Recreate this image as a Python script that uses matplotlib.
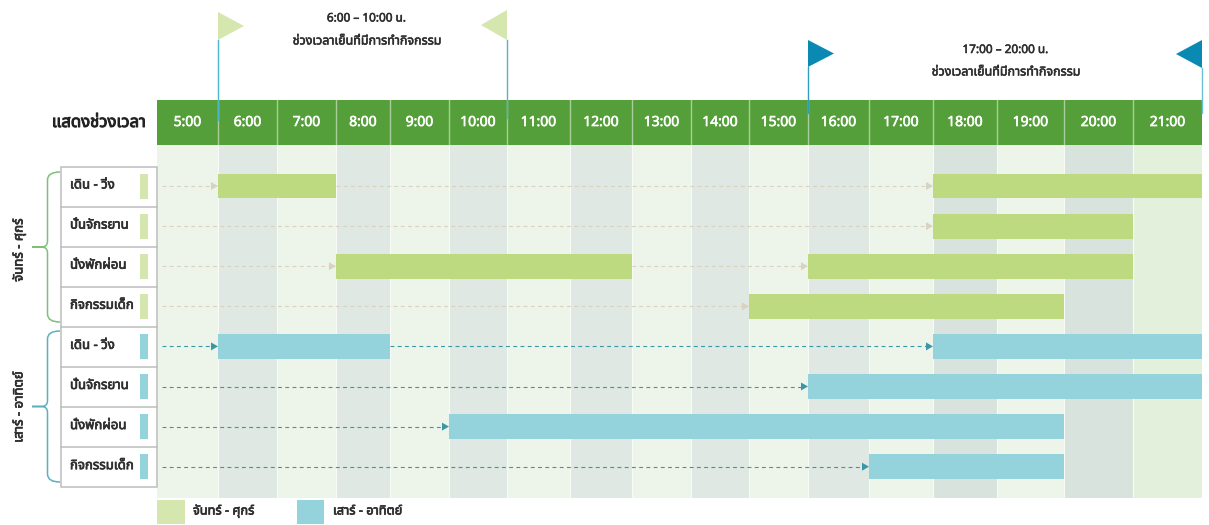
import numpy as np
import matplotlib
matplotlib.use("Agg")
import matplotlib.pyplot as plt
import matplotlib.patheffects as pe
from matplotlib.patches import Polygon, Rectangle, PathPatch
from matplotlib.path import Path

THAI = ['Noto Sans Thai', 'Noto Sans', 'DejaVu Sans']
plt.rcParams['font.family'] = THAI

hours = list(range(5, 22))
hour_labels = [f"{h}:00" for h in hours]
activities = ["เดิน - วิ่ง", "ปั่นจักรยาน", "นั่งพักผ่อน", "กิจกรรมเด็ก"]
weekday_label = "จันทร์ - ศุกร์"
weekend_label = "เสาร์ - อาทิตย์"
weekday_spans = [[(6, 8), (18, 22)], [(18, 21)], [(8, 13), (16, 21)], [(15, 20)]]
weekend_spans = [[(6, 9), (18, 22)], [(16, 22)], [(10, 20)], [(17, 20)]]
weekday_flags = (6, 11)
weekend_flags = (16, 22)
flag_titles = ["6:00 – 10:00 น.", "17:00 – 20:00 น."]
flag_sub = "ช่วงเวลาเย็นที่มีการทำกิจกรรม"
header_title = "แสดงช่วงเวลา"

# column edges of the uneven time axis (pixels)
edge_px = [157, 218, 277, 336, 390, 449, 507, 570, 632, 691, 749, 808, 869, 933, 997, 1064, 1133, 1202]
edge_h = list(range(5, 23))
W, H = 1209, 525
GREEN, TEAL = '#BDDA80', '#94D3DC'
GREEN_L, TEAL_L = '#D5E6AE', '#94D3DC'
INK = '#2E2E2E'


def faux_bold(width, color=INK):
    return [pe.withStroke(linewidth=width, foreground=color)]


fig = plt.figure(figsize=(W / 100, H / 100), dpi=100, facecolor='white')


def axes_px(x0, y0, x1, y1):
    return fig.add_axes([x0 / W, 1 - y1 / H, (x1 - x0) / W, (y1 - y0) / H])


fwd = lambda h: np.interp(h, edge_h, edge_px)
inv = lambda p: np.interp(p, edge_px, edge_h)

ax = axes_px(157, 145, 1202, 498)
ax.set_xscale('function', functions=(fwd, inv))
ax.set_xlim(5, 22)
ax.set_ylim((498 - 186) / 40.1, (145 - 186) / 40.1)
ax.axis('off')

head = axes_px(157, 100, 1202, 145)
head.set_xscale('function', functions=(fwd, inv))
head.set_xlim(5, 22)
head.set_ylim(0, 1)
head.axis('off')

for i, (h, lab) in enumerate(zip(hours, hour_labels)):
    c = '#EDF5EA' if i % 2 == 0 else '#DFE8E3'
    if h >= 18 and i % 2 == 1:
        c = '#D8E3DE'
    if h == 21:
        c = '#E3F1DC'
    ax.axvspan(h, h + 1, color=c, lw=0, zorder=0)
    head.axvspan(h, h + 1, color='#559F3A', lw=0, zorder=0)
    if i:
        ax.axvline(h, color='#F7FAF5', lw=0.8, zorder=0.5)
        head.axvline(h, color='#A9CE9A', lw=1, zorder=1)
    head.text(h + 0.5, 0.5, lab, color='white', ha='center', va='center',
              fontsize=10, family=['Open Sans', 'DejaVu Sans'],
              path_effects=faux_bold(0.5, 'white'))

ov = axes_px(0, 0, W, H)
ov.set_xlim(0, W)
ov.set_ylim(H, 0)
ov.axis('off')
ov.patch.set_alpha(0)
ov_from_hour = lambda h: float(fwd(h))


def draw_group(spans, offset, color, dash):
    for r, sp in enumerate(spans):
        y = r + offset
        ax.broken_barh([(a, b - a) for a, b in sp], (y - 0.31, 0.62), color=color, lw=0, zorder=3)
        yp = 186 + 40.1 * y
        prev = None
        for a, b in sp:
            xa = ov_from_hour(prev) if prev is not None else 162
            xb = ov_from_hour(a)
            ov.plot([xa, xb - 6], [yp, yp], color=dash, lw=0.8, dashes=(3.5, 3), zorder=4)
            ov.add_patch(Polygon([[xb - 7, yp - 4], [xb - 7, yp + 4], [xb, yp]],
                                 color=dash, lw=0, zorder=4))
            prev = b


draw_group(weekday_spans, 0, GREEN, '#D8D2BE')
draw_group(weekend_spans, 4, TEAL, '#3A97A7')

# row boxes
ov.add_patch(Rectangle((60.5, 166.5), 96.5, 320.5, fc='white', ec='#BDBDBD', lw=1.1, zorder=2))
for r in range(1, 8):
    yy = 166.5 + 40.1 * r
    ov.plot([60.5, 157], [yy, yy], color='#BDBDBD', lw=1.1, zorder=2.1)
for r in range(8):
    yc = 186 + 40.1 * r
    ov.add_patch(Rectangle((140, yc - 12.5), 8, 25, fc=GREEN_L if r < 4 else TEAL_L, lw=0, zorder=3))
    ov.text(70, yc - 1, activities[r % 4], ha='left', va='center', fontsize=9.5,
            color=INK, zorder=3, path_effects=faux_bold(0.5))


def brace(y0, y1, color):
    ym = (y0 + y1) / 2
    x, tip = 47.5, 32
    v = [(60, y0), (x, y0), (x, y0 + 8), (x, ym - 6), (x, ym), (x - 6, ym), (tip, ym),
         (x - 6, ym), (x, ym), (x, ym + 6), (x, y1 - 8), (x, y1), (60, y1)]
    c = [Path.MOVETO, Path.CURVE3, Path.CURVE3, Path.LINETO, Path.CURVE3, Path.CURVE3, Path.LINETO,
         Path.LINETO, Path.CURVE3, Path.CURVE3, Path.LINETO, Path.CURVE3, Path.CURVE3]
    ov.add_patch(PathPatch(Path(v, c), fc='none', ec=color, lw=1.1, zorder=2))


brace(172, 322, '#7FBF7A')
brace(331, 482, '#5FAFBF')
ov.text(19, 250, weekday_label, rotation=90, ha='center', va='center', fontsize=9.5,
        color=INK, path_effects=faux_bold(0.5))
ov.text(19, 407, weekend_label, rotation=90, ha='center', va='center', fontsize=9.5,
        color=INK, path_effects=faux_bold(0.5))

ov.text(146, 123, header_title, ha='right', va='center', fontsize=12, color='#222222',
        path_effects=faux_bold(0.7, '#222222'))


# flags
def flag(hour, direction, y0, y1, color, line_color, line_end):
    x = ov_from_hour(hour)
    ov.plot([x, x], [y1, line_end], color=line_color, lw=1, zorder=6)
    ov.add_patch(Polygon([[x, y0], [x, y1], [x + direction * 26, (y0 + y1) / 2]], color=color, lw=0, zorder=6))


flag(weekday_flags[0], 1, 12, 40, '#D5E6AE', '#4DB6C9', 120)
flag(weekday_flags[1], -1, 10, 40, '#D5E6AE', '#4DB6C9', 118)
flag(weekend_flags[0], 1, 40, 67, '#0A8AB2', '#2E9DBE', 113)
flag(weekend_flags[1], -1, 40, 68, '#0A8AB2', '#6CC0D4', 113)

for x, y, s, fs in [(367, 18, flag_titles[0], 8.5), (367, 41, flag_sub, 9),
                    (1006, 49.5, flag_titles[1], 8.5), (1006, 72, flag_sub, 9)]:
    ov.text(x, y, s, ha='center', va='center', fontsize=fs, color=INK, path_effects=faux_bold(0.4))

# legend
ov.add_patch(Rectangle((157, 500), 28, 24, fc=GREEN_L, lw=0))
ov.add_patch(Rectangle((297, 500), 27, 24, fc=TEAL_L, lw=0))
ov.text(193, 511, weekday_label, ha='left', va='center', fontsize=9.2, color=INK, path_effects=faux_bold(0.5))
ov.text(333, 511, weekend_label, ha='left', va='center', fontsize=9.2, color=INK, path_effects=faux_bold(0.5))

fig.savefig('out.png', dpi=100)
